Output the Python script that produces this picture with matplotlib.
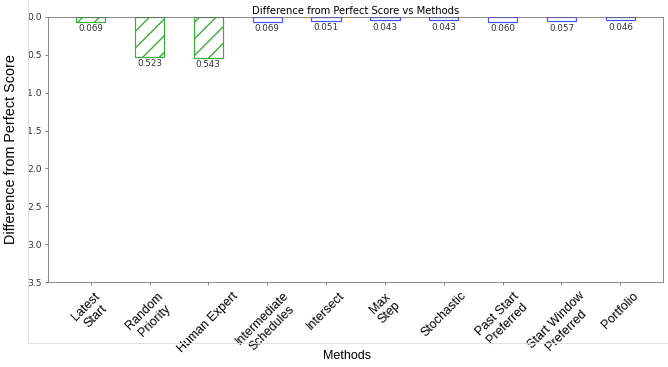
import matplotlib.pyplot as plt
from matplotlib.lines import Line2D

# дані
methods = ["Latest\nStart", "Random\nPriority", "Human Expert", "Intermediate\nSchedules",
           "Intersect", "Max\nStep", "Stochastic", "Past Start\nPreferred",
           "Start Window\nPreferred", "Portfolio"]
diffs = [0.069, 0.523, 0.543, 0.069, 0.051, 0.043, 0.043, 0.060, 0.057, 0.046]
hatched = [True, True, True, False, False, False, False, False, False, False]

DPI = 100
S = 66.8 / DPI  # масштаб шрифтів

fig = plt.figure(figsize=(668 / DPI, 367 / DPI), dpi=DPI)
ax = fig.add_axes([48 / 668, 1 - 282 / 367, 615 / 668, 265 / 367])

for i, (d, h) in enumerate(zip(diffs, hatched)):
    col = '#3aad3a' if h else '#4455ff'
    ax.bar(i, d, width=0.5, fill=False, edgecolor=col, hatch='//' if h else None, lw=1.3 * S)
    ax.text(i, d + 0.03, f"{d:.3f}", ha='center', va='top', fontsize=9.5 * S, color='#333333')

ax.set_ylim(3.5, 0)
ax.set_yticks([0, 0.5, 1.0, 1.5, 2.0, 2.5, 3.0, 3.5])
ax.set_xticks(range(len(methods)))
ax.set_xticklabels(methods, rotation=45, ha='center', fontsize=13.5 * S,
                   family='Liberation Sans')
ax.tick_params(axis='y', labelsize=10 * S, colors='#555555', labelcolor='#333333',
               length=3.5 * S, width=0.8 * S, pad=3.5 * S)
ax.tick_params(axis='x', colors='#555555', labelcolor='black',
               length=3.5 * S, width=0.8 * S, pad=5 * S)
for s in ax.spines.values():
    s.set_color('#666666')
    s.set_linewidth(0.8 * S)

ax.set_title("Difference from Perfect Score vs Methods", fontsize=10.8 * S, pad=3 * S)
ax.set_ylabel("Difference from Perfect Score", family='Liberation Sans', fontsize=15.5 * S)
ax.yaxis.set_label_coords(-0.049, 0.5)
ax.set_xlabel("Methods", family='Liberation Sans', fontsize=13.5 * S)
ax.xaxis.set_label_coords(0.486, -0.255)

# сіра рамка
fig.add_artist(Line2D([28 / 668, 28 / 668], [1, 1 - 343 / 367], color='#dddddd', lw=1 * S))
fig.add_artist(Line2D([28 / 668, 1], [1 - 343 / 367, 1 - 343 / 367], color='#dddddd', lw=1 * S))

fig.savefig("out.png", dpi=DPI)
